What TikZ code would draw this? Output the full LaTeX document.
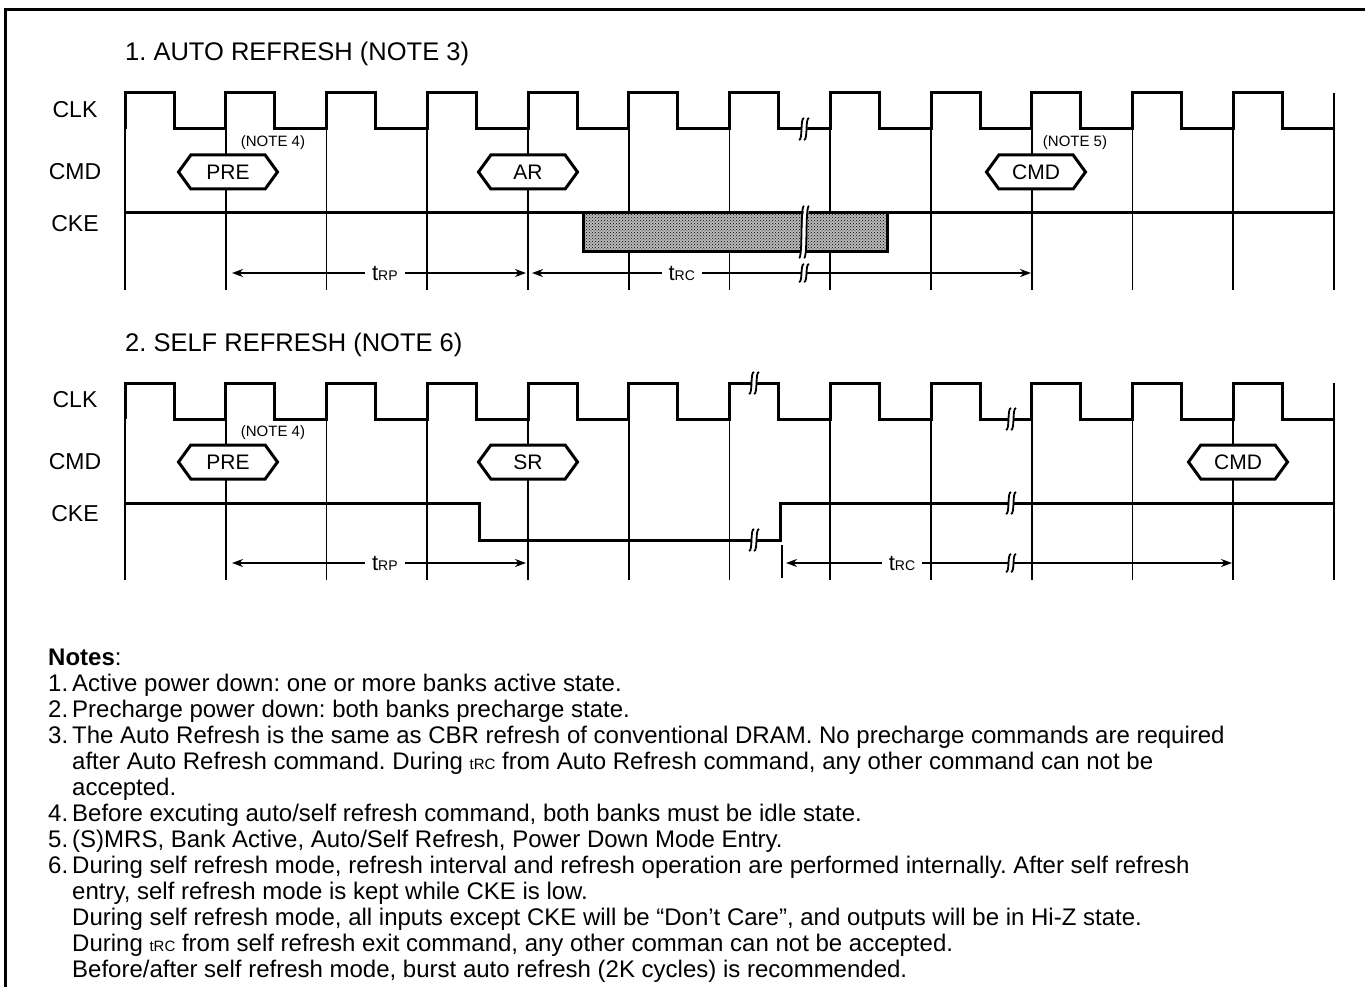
\documentclass[tikz,border=0pt]{standalone}
\usepackage{fontspec}
\setmainfont{Liberation Sans}
\usetikzlibrary{arrows.meta}
\usetikzlibrary{shapes.symbols,patterns}
\tikzset{frame/.style={line width=3pt,line cap=rect}}
\tikzset{wave/.style={line width=3pt,line join=miter}}
\tikzset{gridline/.style={line width=1.6pt}}
\tikzset{busy/.style={line width=3pt,preaction={fill=gray!55},pattern=crosshatch dots}}
\tikzset{cmdbox/.style={signal,signal to=east and west,signal pointer angle=108,draw=black,fill=white,
line width=3pt,minimum width=99pt,minimum height=34pt,inner sep=0pt,font=\fontsize{21}{21}\selectfont}}
\tikzset{signame/.style={inner sep=0pt,font=\fontsize{23}{23}\selectfont}}
\tikzset{titletext/.style={anchor=base west,inner sep=0pt,font=\fontsize{25.5}{25.5}\selectfont}}
\tikzset{notelabel/.style={inner sep=0pt,font=\fontsize{15}{15}\selectfont}}
\tikzset{timing/.style={line width=2.2pt,{Stealth[length=11pt,width=8pt]}-{Stealth[length=11pt,width=8pt]}}}
\tikzset{tlabel/.style={fill=white,inner xsep=7pt,inner ysep=2pt}}
\tikzset{tick/.style={line width=1.6pt}}
\tikzset{brk/.style={line width=1.8pt}}
\tikzset{notetext/.style={anchor=base west,inner sep=0pt,font=\fontsize{24}{26}\selectfont}}
\newcommand{\tname}[1]{{\fontsize{22}{22}\selectfont t}{\fontsize{14}{14}\selectfont #1}}
\newcommand{\tsmall}{{\fontsize{15}{15}\selectfont tRC}}
\newcommand{\brkmark}[3]{%
  \fill[white] ({#1-5},{#2+#3}) -- ({#1-1},{#2-#3}) -- ({#1+4},{#2-#3}) -- ({#1},{#2+#3}) -- cycle;
  \draw[brk] ({#1-6},{#2+#3}) .. controls ({#1-2},{#2+#3}) and ({#1-5},{#2-#3}) .. ({#1-1},{#2-#3});
  \draw[brk] ({#1-1},{#2+#3}) .. controls ({#1+3},{#2+#3}) and ({#1},{#2-#3}) .. ({#1+4},{#2-#3});}

\begin{document}
\frenchspacing
\begin{tikzpicture}[x=1pt,y=-1pt]
\useasboundingbox (0,0) rectangle (1365,987);
\draw[frame] (5,990) -- (5,10) -- (1368,10);

\node[titletext] (titleA) at (125,61) {1. AUTO REFRESH (NOTE 3)};
\node[signame] (clkA) at (75,110) {CLK};
\node[signame] (cmdnameA) at (75,172) {CMD};
\node[signame] (ckeA) at (75,224) {CKE};

\foreach \i in {0,...,12} \draw[gridline] ({125+\i*100.75},129) -- ({125+\i*100.75},290);
\draw[gridline] (1334,93) -- (1334,129);
\draw[wave] (125,129) \foreach \i in {0,...,11}{ -- ({125+\i*100.75},93) -- ({174+\i*100.75},93)
  -- ({174+\i*100.75},129) -- ({125+(\i+1)*100.75},129)};
\draw[wave] (125,213) -- (1334,213);
\draw[busy] (583,213) rectangle (887,251);

\node[cmdbox] (preA) at (228,172) {PRE};
\node[cmdbox] (arA) at (528,172) {AR};
\node[cmdbox] (cmdA) at (1036,172) {CMD};
\node[notelabel] (notefourA) at (273,143) {(NOTE 4)};
\node[notelabel] (notefiveA) at (1075,143) {(NOTE 5)};

\coordinate (rpAl) at (232,273);
\coordinate (rpAr) at (526,273);
\coordinate (rcAl) at (532,273);
\coordinate (rcAr) at (1031,273);
\draw[timing] (rpAl) -- node[tlabel,pos=0.52] {\tname{RP}} (rpAr);
\draw[timing] (rcAl) -- node[tlabel,pos=0.3] {\tname{RC}} (rcAr);

\brkmark{805}{129}{11}
\brkmark{805}{232}{26}
\brkmark{805}{273}{9}

\begin{scope}[yshift=-290pt]
\node[titletext] (titleB) at (125,61) {2. SELF REFRESH (NOTE 6)};
\node[signame] (clkB) at (75,110) {CLK};
\node[signame] (cmdnameB) at (75,172) {CMD};
\node[signame] (ckeB) at (75,224) {CKE};

\foreach \i in {0,...,12} \draw[gridline] ({125+\i*100.75},129) -- ({125+\i*100.75},290);
\draw[gridline] (1334,93) -- (1334,129);
\draw[wave] (125,129) \foreach \i in {0,...,11}{ -- ({125+\i*100.75},93) -- ({174+\i*100.75},93)
  -- ({174+\i*100.75},129) -- ({125+(\i+1)*100.75},129)};
\draw[wave] (125,213) -- (479,213) -- (479,250) -- (780,250) -- (780,213) -- (1334,213);

\node[cmdbox] (preB) at (228,172) {PRE};
\node[cmdbox] (srB) at (528,172) {SR};
\node[cmdbox] (cmdB) at (1238,172) {CMD};
\node[notelabel] (notefourB) at (273,143) {(NOTE 4)};

\coordinate (tickBt) at (782,255);
\coordinate (tickBb) at (782,288);
\draw[tick] (tickBt) -- (tickBb);
\coordinate (rpBl) at (232,273);
\coordinate (rpBr) at (526,273);
\coordinate (rcBl) at (786,273);
\coordinate (rcBr) at (1232,273);
\draw[timing] (rpBl) -- node[tlabel,pos=0.52] {\tname{RP}} (rpBr);
\draw[timing] (rcBl) -- node[tlabel,pos=0.26] {\tname{RC}} (rcBr);

\brkmark{755}{93}{11}
\brkmark{1012}{129}{11}
\brkmark{755}{250}{11}
\brkmark{1012}{213}{11}
\brkmark{1012}{273}{9}
\end{scope}

\node[notetext] (notehead) at (48,665) {\textbf{Notes}:};
\node[notetext] (noteone) at (48,691) {\makebox[24pt][l]{1.}Active power down: one or more banks active state.};
\node[notetext] (notetwo) at (48,717) {\makebox[24pt][l]{2.}Precharge power down: both banks precharge state.};
\node[notetext] (notethree) at (48,743) {\makebox[24pt][l]{3.}The Auto Refresh is the same as CBR refresh of conventional DRAM. No precharge commands are required};
\node[notetext] (notethreeb) at (72,769) {after Auto Refresh command. During \tsmall{} from Auto Refresh command, any other command can not be};
\node[notetext] (notethreec) at (72,795) {accepted.};
\node[notetext] (notefour) at (48,821) {\makebox[24pt][l]{4.}Before excuting auto/self refresh command, both banks must be idle state.};
\node[notetext] (notefive) at (48,847) {\makebox[24pt][l]{5.}(S)MRS, Bank Active, Auto/Self Refresh, Power Down Mode Entry.};
\node[notetext] (notesix) at (48,873) {\makebox[24pt][l]{6.}During self refresh mode, refresh interval and refresh operation are performed internally. After self refresh};
\node[notetext] (notesixb) at (72,899) {entry, self refresh mode is kept while CKE is low.};
\node[notetext] (notesixc) at (72,925) {During self refresh mode, all inputs except CKE will be “Don’t Care”, and outputs will be in Hi-Z state.};
\node[notetext] (notesixd) at (72,951) {During \tsmall{} from self refresh exit command, any other comman can not be accepted.};
\node[notetext] (notesixe) at (72,977) {Before/after self refresh mode, burst auto refresh (2K cycles) is recommended.};
\end{tikzpicture}
\end{document}
